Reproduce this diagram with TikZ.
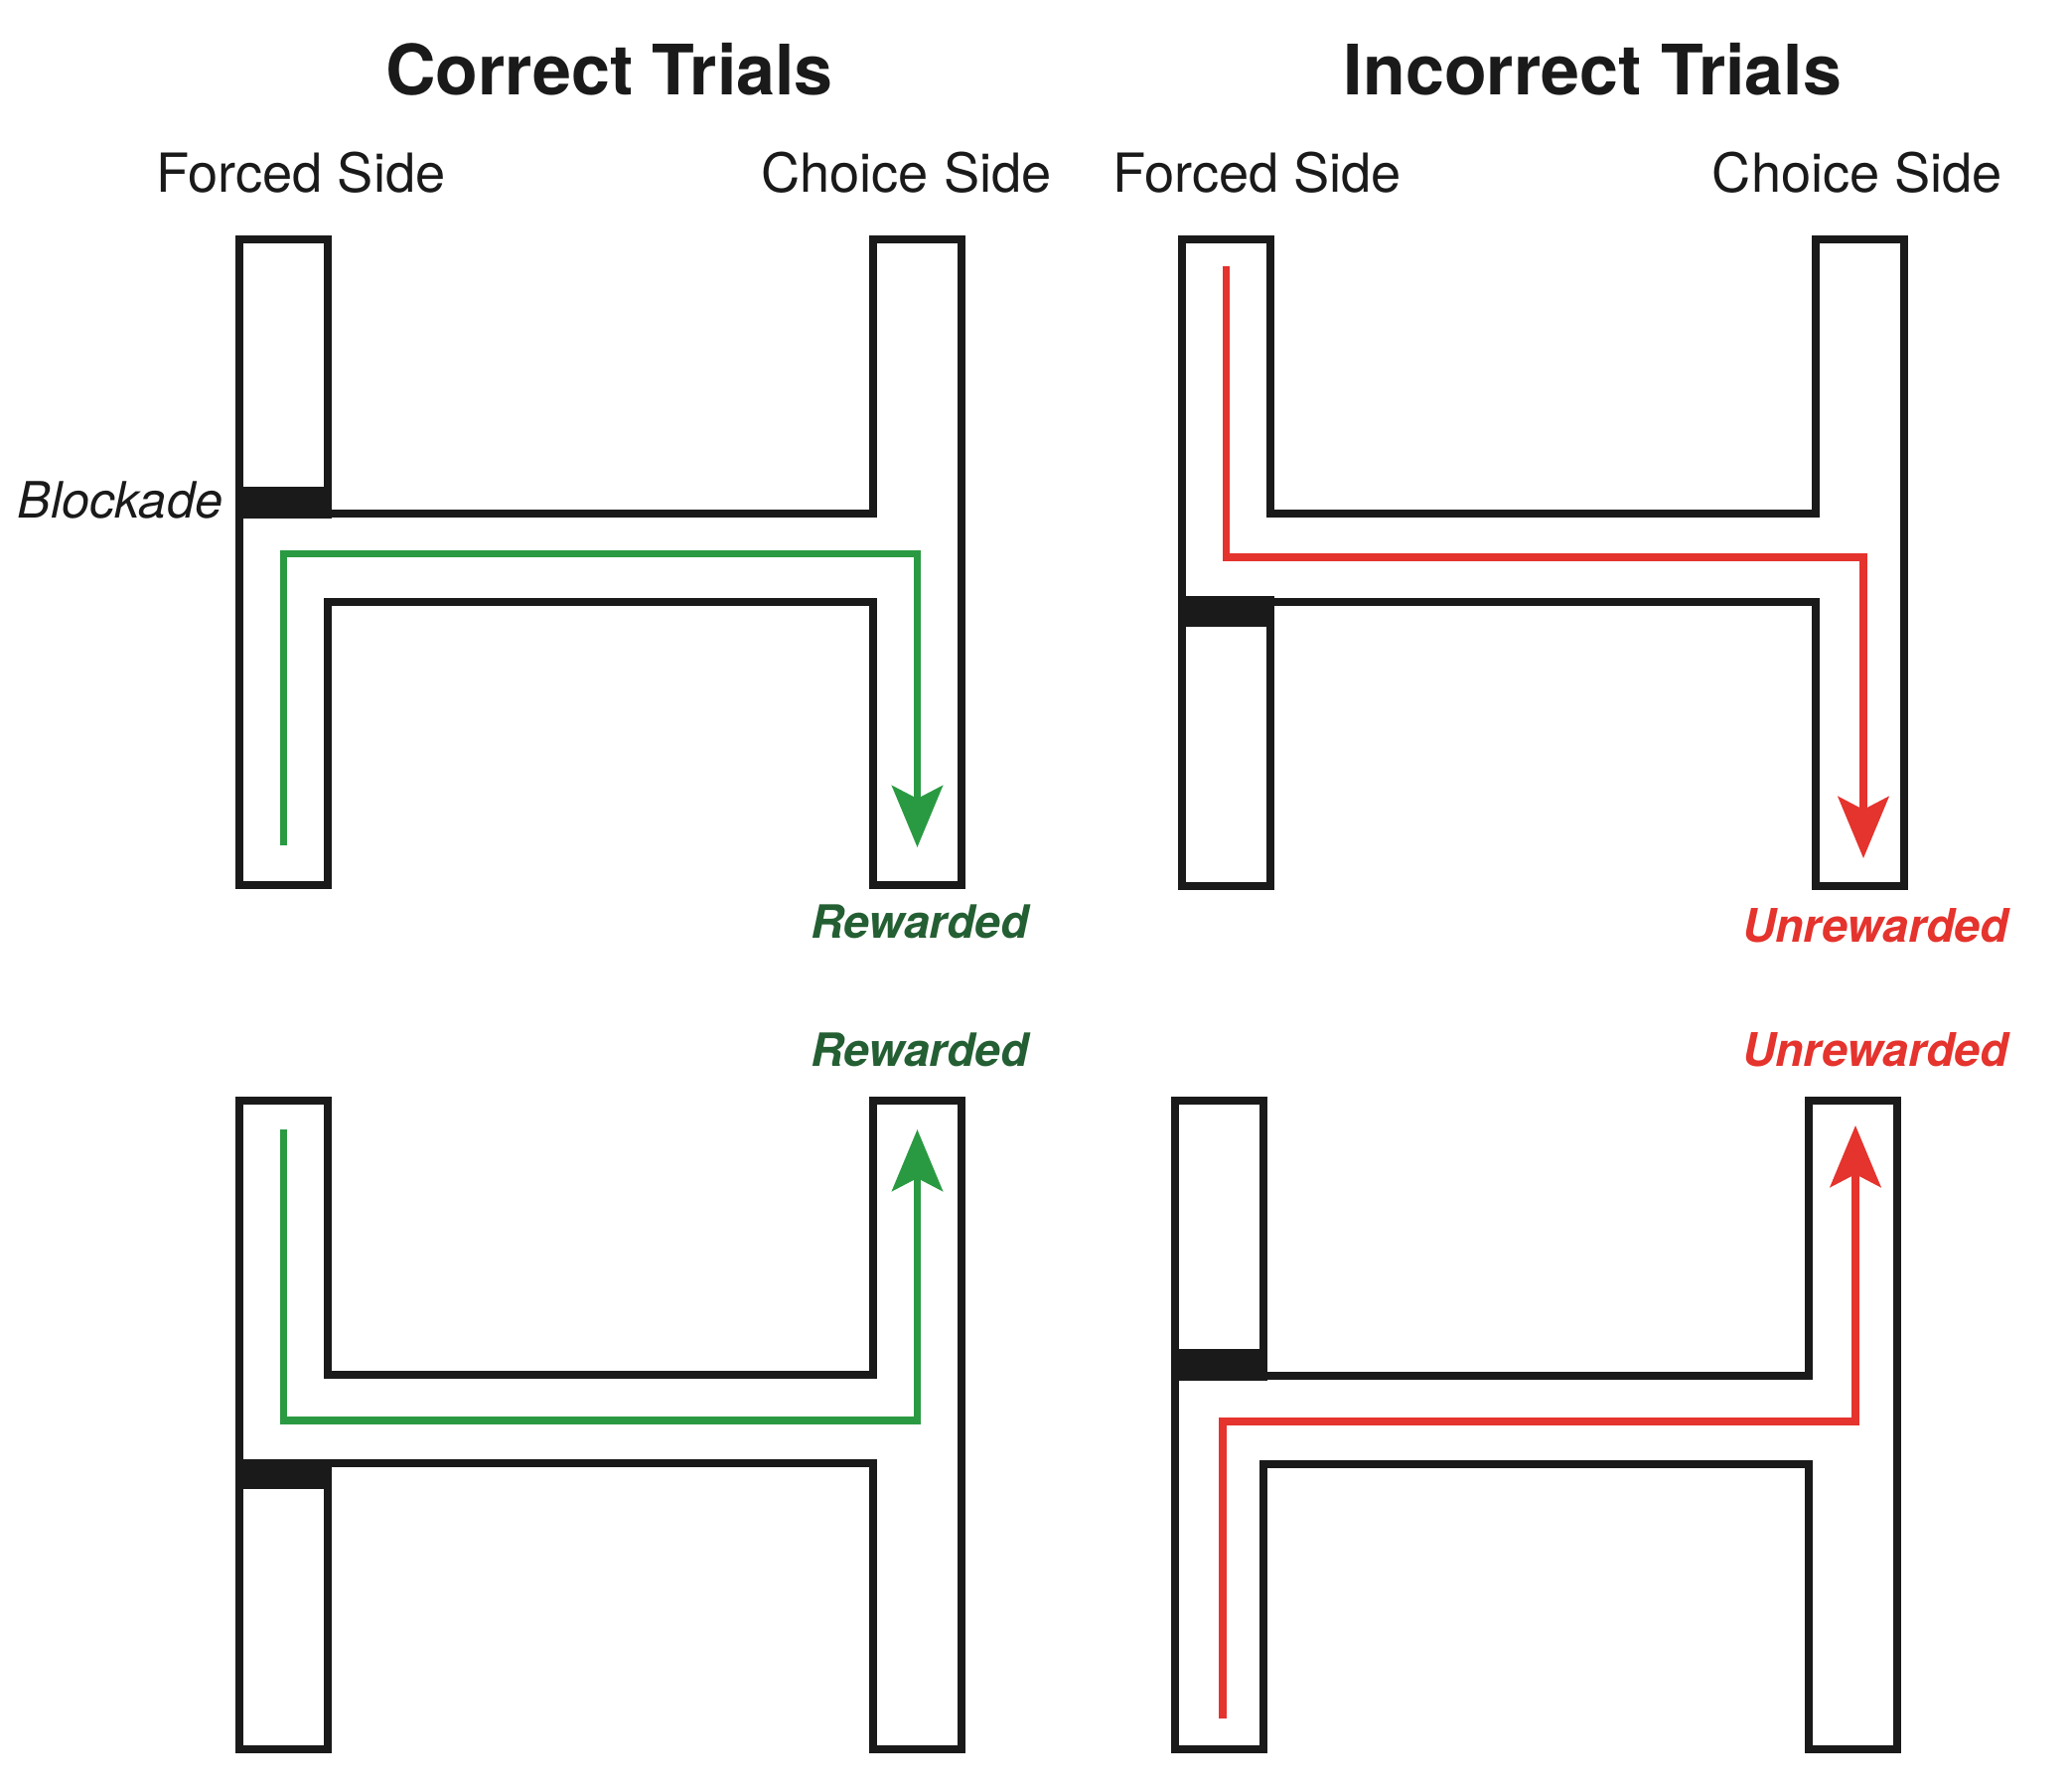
\documentclass[tikz,border=0pt]{standalone}
\usepackage{fontspec}
\setmainfont{TeX Gyre Heros}
\usetikzlibrary{arrows.meta}
\definecolor{mazeblack}{HTML}{1A1A1A}
\definecolor{pathgreen}{HTML}{2A9A42}
\definecolor{labelgreen}{HTML}{245F33}
\definecolor{pathred}{HTML}{E5332D}
\newcommand{\hmaze}[8]{%
  \draw[maze] (#1,#5) -- (#2,#5) -- (#2,#7) -- (#3,#7) -- (#3,#5) -- (#4,#5)
    -- (#4,#6) -- (#3,#6) -- (#3,#8) -- (#2,#8) -- (#2,#6) -- (#1,#6) -- cycle;}
\begin{document}
\begin{tikzpicture}[x=0.5pt,y=-0.5pt,
  maze/.style={draw=mazeblack, line width=4pt, line join=miter},
  blockade/.style={fill=mazeblack},
  route/.style={line width=3.75pt, line join=miter,
    -{Stealth[length=31pt,width=25.5pt,inset=6.5pt]}},
  greenroute/.style={route, draw=pathgreen, pathgreen},
  redroute/.style={route, draw=pathred, pathred},
  txt/.style={inner sep=0pt, outer sep=0pt, text=mazeblack},
  title/.style={txt, font=\fontsize{35}{40}\selectfont\bfseries, anchor=base},
  side/.style={txt, font=\fontsize{27.1}{32}\selectfont, anchor=base},
  blk/.style={txt, font=\fontsize{25.2}{30}\selectfont\itshape, anchor=base east},
  rew/.style={txt, font=\fontsize{23.1}{28}\selectfont\bfseries\itshape, text=labelgreen, anchor=base},
  unrew/.style={txt, font=\fontsize{23.3}{28}\selectfont\bfseries\itshape, text=pathred, anchor=base}
]
\useasboundingbox (0,0) rectangle (2085,1804);

% titles and side labels
\node[title] (t1) at (613.5,95) {Correct Trials};
\node[title] (t2) at (1603.5,95) {Incorrect Trials};
\node[side] (f1) at (303,193) {Forced Side};
\node[side] (c1) at (912.5,193) {Choice Side};
\node[side] (f2) at (1265.5,193) {Forced Side};
\node[side] (c2) at (1870,193) {Choice Side};
\node[blk] (bl) at (224,521) {Blockade};

% reward labels
\node[rew] (r1) at (926,944) {Rewarded};
\node[rew] (r2) at (926,1073) {Rewarded};
\node[unrew] (u1) at (1888,948) {Unrewarded};
\node[unrew] (u2) at (1888,1073) {Unrewarded};

% mazes
\hmaze{241}{330}{879}{968}{241}{891}{517}{606}
\hmaze{1190}{1279}{1828}{1917}{241}{892}{516.5}{605.5}
\hmaze{241}{330}{879}{968}{1108}{1761}{1384}{1473}
\hmaze{1183}{1272}{1821}{1910}{1108}{1761}{1385}{1474}

% blockades
\fill[blockade] (237,490) rectangle (334,522);
\fill[blockade] (1186,600) rectangle (1283,631);
\fill[blockade] (237,1469) rectangle (334,1499);
\fill[blockade] (1179,1358) rectangle (1276,1390);

% routes
\coordinate (s1) at (285.5,851);
\coordinate (a1) at (285.5,557.5);
\coordinate (b1) at (923.5,557.5);
\coordinate (e1) at (923.5,853);
\draw[greenroute] (s1) -- (a1) -- (b1) -- (e1);

\coordinate (s2) at (1234.5,268);
\coordinate (a2) at (1234.5,561);
\coordinate (b2) at (1876,561);
\coordinate (e2) at (1876,864);
\draw[redroute] (s2) -- (a2) -- (b2) -- (e2);

\coordinate (s3) at (285.5,1137);
\coordinate (a3) at (285.5,1430);
\coordinate (b3) at (923.5,1430);
\coordinate (e3) at (923.5,1137);
\draw[greenroute] (s3) -- (a3) -- (b3) -- (e3);

\coordinate (s4) at (1231,1730);
\coordinate (a4) at (1231,1431);
\coordinate (b4) at (1868,1431);
\coordinate (e4) at (1868,1133);
\draw[redroute] (s4) -- (a4) -- (b4) -- (e4);
\end{tikzpicture}
\end{document}
